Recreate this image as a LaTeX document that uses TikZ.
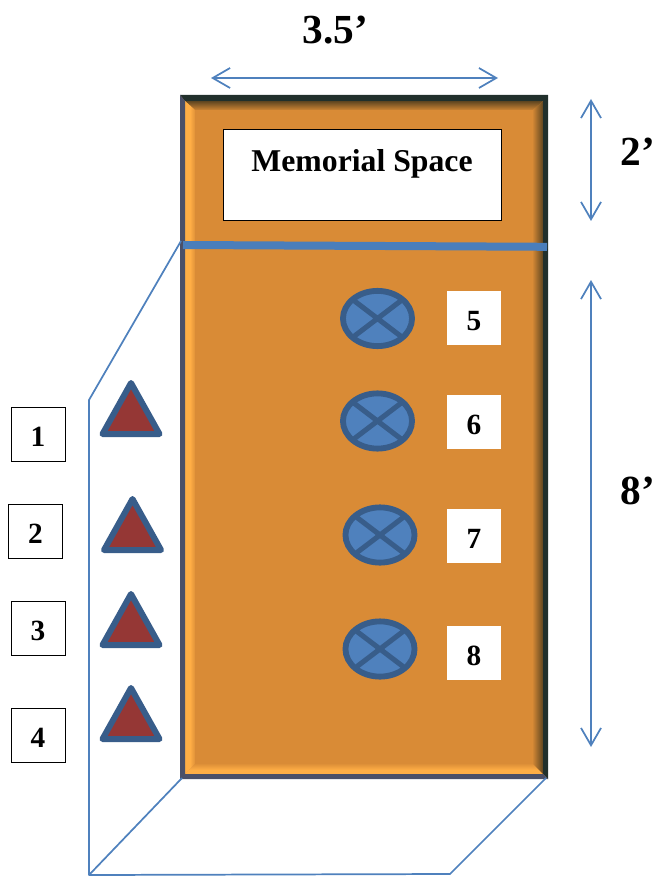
\documentclass[tikz,border=0pt]{standalone}
\usepackage{fontspec}
\setmainfont{Liberation Serif}
\usetikzlibrary{arrows.meta}
\definecolor{wall}{HTML}{D98B36}
\definecolor{wallhi}{HTML}{FFAE45}
\definecolor{wallsh}{HTML}{5E4520}
\definecolor{framedk}{HTML}{21302C}
\definecolor{framelt}{HTML}{4B5068}
\definecolor{lineblue}{HTML}{4F81BD}
\definecolor{strokeblue}{HTML}{385D8A}
\definecolor{barblue}{HTML}{4A7EBB}
\definecolor{tri}{HTML}{953735}
\tikzset{
  x=0.75pt,y=-0.75pt,
  numbox/.style={draw=black,line width=0.75pt,fill=white,minimum width=40.5pt,minimum height=40.5pt,inner sep=0pt,font=\bfseries\fontsize{22}{24}\selectfont,text=black},
  wbox/.style={numbox,draw=none},
  dimlabel/.style={font=\bfseries\fontsize{31}{33}\selectfont,inner sep=0pt},
  thinline/.style={draw=lineblue,line width=1.3pt},
  dimarrow/.style={draw=lineblue,line width=1.3pt,{Straight Barb[length=13pt,width=15pt,line width=1.3pt]}-{Straight Barb[length=13pt,width=15pt,line width=1.3pt]}},
  trimark/.style={draw=strokeblue,fill=tri,line width=4.5pt,line join=round},
  lamp/.style={draw=strokeblue,fill=lineblue,line width=4.4pt},
  lampx/.style={draw=strokeblue,line width=3.8pt},
}
\newcommand{\tribit}[2]{\draw[trimark] (#1,#2+3) -- (#1+28.5,#2+54) -- (#1-28.5,#2+54) -- cycle;}
\newcommand{\lampbit}[3]{%
  \node[draw=none,inner sep=0pt,minimum size=0pt] (#1) at (#2,#3) {};
  \draw[lamp] (#2,#3) ellipse [x radius=25.9pt,y radius=20.7pt];
  \draw[lampx] (#2-25,#3-19) -- (#2+25,#3+19) (#2+25,#3-19) -- (#2-25,#3+19);}
\newcommand{\dg}[1]{\raisebox{-9pt}[0pt][0pt]{#1}}
\begin{document}
\begin{tikzpicture}
\useasboundingbox (0,0) rectangle (655,877);
% wall
\fill[wall] (180,96) rectangle (548,779);
% bevel: top
\begin{scope}
\clip (185,101) -- (543,101) -- (533,110) -- (195,110) -- cycle;
\shade[top color=wallsh,bottom color=wall] (185,101) rectangle (543,111);
\end{scope}
% bevel: left
\begin{scope}
\clip (185,101) -- (195,110) -- (195,764) -- (185,774) -- cycle;
\shade[left color=wallhi,right color=wall] (190,101) rectangle (196,774);
\fill[wallhi] (185,101) rectangle (190,774);
\end{scope}
% bevel: bottom
\begin{scope}
\clip (185,774) -- (195,764) -- (533,764) -- (543,774) -- cycle;
\shade[top color=wall,bottom color=wallhi] (185,763) rectangle (543,770);
\fill[wallhi] (185,770) rectangle (543,774);
\end{scope}
% bevel: right
\begin{scope}
\clip (543,101) -- (533,110) -- (533,764) -- (543,774) -- cycle;
\shade[left color=wall,right color=wallsh] (532,101) rectangle (543,774);
\end{scope}
% frame
\fill[framedk] (180,95) -- (548,95) -- (548,779) -- (543,774) -- (543,101) -- (185,101) -- cycle;
\fill[framelt] (180,95) -- (185,101) -- (185,774) -- (543,774) -- (548,779) -- (180,779) -- cycle;
% memorial
\node[draw=black,line width=0.75pt,fill=white,minimum width=208.5pt,minimum height=68.25pt,inner sep=0pt] (mem) at (362,175.5) {};
\node[inner sep=0pt,font=\bfseries\fontsize{23.8}{25}\selectfont] (memtext) at (362,163.5) {Memorial Space};
% divider
\coordinate (da) at (183,245); \coordinate (db) at (547,246.8);
\draw[barblue,line width=6pt] (da) -- (db);
% outlines
\coordinate (tl) at (181,241); \coordinate (l) at (89,400); \coordinate (c) at (89,875);
\coordinate (bl) at (182,778); \coordinate (br) at (546,778); \coordinate (f) at (450,874);
\draw[thinline,line join=bevel] (tl) -- (l) -- (c) -- (f) -- (br);
\draw[thinline] (c) -- (bl);
% dims
\coordinate (wa) at (211,78); \coordinate (wb) at (498,78);
\coordinate (ha) at (591,99); \coordinate (hb) at (591,221);
\coordinate (ia) at (591,280); \coordinate (ib) at (591,747);
\draw[dimarrow] (wa) -- (wb);
\draw[dimarrow] (ha) -- (hb);
\draw[dimarrow] (ia) -- (ib);
\node[dimlabel] (w) at (335.5,30) {3.5’};
\node[dimlabel] (h) at (638,152) {2’};
\node[dimlabel] (i) at (638,491) {8’};
% triangles
\tribit{131}{380}
\tribit{132.5}{496}
\tribit{131}{591}
\tribit{131}{685}
% lamps
\lampbit{la}{377.5}{318.5}
\lampbit{lb}{377.5}{421}
\lampbit{lc}{380}{535}
\lampbit{ld}{380}{649}
% boxes
\node[numbox] (n1) at (38,434) {\dg{1}};
\node[numbox] (n2) at (35.5,531) {\dg{2}};
\node[numbox] (n3) at (38,628) {\dg{3}};
\node[numbox] (n4) at (38,735) {\dg{4}};
\node[wbox] (n5) at (474,318) {\dg{5}};
\node[wbox] (n6) at (474,422) {\dg{6}};
\node[wbox] (n7) at (474,536) {\dg{7}};
\node[wbox] (n8) at (474,653) {\dg{8}};
\end{tikzpicture}
\end{document}
